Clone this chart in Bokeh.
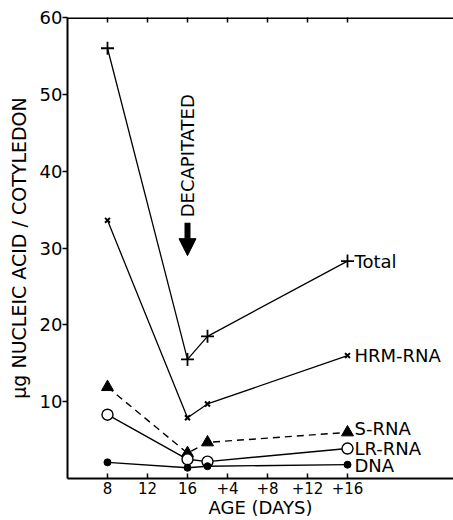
import math
from bokeh.plotting import figure
from bokeh.models import Range1d, FixedTicker, Label, Arrow, NormalHead, Span
from bokeh.embed import file_html
from bokeh.resources import INLINE

# ---- data ----
age = [8, 16, 18, 32]
total = [56.0, 15.5, 18.5, 28.3]
hrm_rna = [33.6, 7.9, 9.7, 16.0]
s_rna = [11.9, 3.3, 4.7, 6.0]
lr_rna = [8.3, 2.5, 2.2, 3.9]
dna = [2.1, 1.4, 1.6, 1.8]
x_ticks = [8, 12, 16, 20, 24, 28, 32]
x_tick_labels = ["8", "12", "16", "+4", "+8", "+12", "+16"]
y_ticks = [10, 20, 30, 40, 50, 60]
series_names = ["Total", "HRM-RNA", "S-RNA", "LR-RNA", "DNA"]

FONT = "DejaVu Sans"
Y_MAX = 60

p = figure(width=453, height=520, x_range=Range1d(4, 42.6), y_range=Range1d(0, Y_MAX),
           output_backend="svg", toolbar_location=None,
           min_border_left=67, min_border_right=0, min_border_top=17, min_border_bottom=42)
p.outline_line_color = None
p.xgrid.grid_line_color = None
p.ygrid.grid_line_color = None
p.background_fill_color = "white"
p.border_fill_color = "white"

# bottom axis
xa = p.xaxis[0]
xa.ticker = FixedTicker(ticks=x_ticks)
xa.major_label_overrides = {t: l for t, l in zip(x_ticks, x_tick_labels)}
xa.axis_line_width = 2
xa.major_tick_in = 5
xa.major_tick_out = 0
xa.major_tick_line_width = 1.5
xa.minor_tick_line_color = None
xa.major_label_standoff = 3
xa.major_label_text_font = FONT
xa.major_label_text_font_size = "15px"
xa.major_label_text_color = "black"
xa.axis_label = "AGE (DAYS)"
xa.axis_label_standoff = 0
xa.axis_label_text_font = FONT
xa.axis_label_text_font_size = "18px"
xa.axis_label_text_font_style = "normal"
xa.axis_label_text_color = "black"

# left axis
ya = p.yaxis[0]
ya.ticker = FixedTicker(ticks=y_ticks)
ya.axis_line_width = 2
ya.major_tick_in = 0
ya.major_tick_out = 5
ya.major_tick_line_width = 1.5
ya.minor_tick_line_color = None
ya.major_label_standoff = 0
ya.major_label_text_font = FONT
ya.major_label_text_font_size = "18px"
ya.major_label_text_color = "black"
ya.axis_label = "\u03bcg NUCLEIC ACID / COTYLEDON"
ya.axis_label_standoff = 7
ya.axis_label_text_font = FONT
ya.axis_label_text_font_size = "19px"
ya.axis_label_text_font_style = "normal"
ya.axis_label_text_color = "black"

# top frame line with inward ticks
p.add_layout(Span(location=Y_MAX, dimension="width", line_color="black", line_width=3))
p.scatter(x=x_ticks, y=[Y_MAX] * len(x_ticks), marker="dash", angle=math.pi / 2,
          size=10, line_color="black", line_width=1.5)

# series lines
p.line(age, total, line_color="black", line_width=1.3)
p.line(age, hrm_rna, line_color="black", line_width=1.3)
p.line(age, s_rna, line_color="black", line_width=1.4, line_dash="7 5")
p.line(age, lr_rna, line_color="black", line_width=1.4)
p.line(age, dna, line_color="black", line_width=1.4)

# markers
p.scatter(age, total, marker="cross", size=13, line_color="black", line_width=1.8)
p.scatter(age, hrm_rna, marker="x", size=7, line_color="black", line_width=2)
p.scatter(age, s_rna, marker="triangle", size=12, line_color="black", fill_color="black")
p.scatter(age, lr_rna, marker="circle", size=11, line_color="black", fill_color="white", line_width=1.4)
p.scatter(age, dna, marker="circle", size=7, line_color="black", fill_color="black")

# series labels at right end
last_vals = [total[-1], hrm_rna[-1], s_rna[-1], lr_rna[-1], dna[-1]]
label_dy = [0, 0, 4, 0, -1]
for name, yv, dy in zip(series_names, last_vals, label_dy):
    p.add_layout(Label(x=age[-1], y=yv, x_offset=7, y_offset=dy, text=name,
                       text_font=FONT, text_font_size="18px", text_color="black",
                       text_align="left", text_baseline="middle"))

# decapitation marker
p.add_layout(Arrow(x_start=16, y_start=33.3, x_end=16, y_end=29.0, line_width=6, line_color="black",
                   end=NormalHead(size=17, fill_color="black", line_color="black", line_width=1)))
p.add_layout(Label(x=16, y=34.0, text="DECAPITATED", angle=math.pi / 2,
                   text_font=FONT, text_font_size="18px", text_color="black",
                   text_align="left", text_baseline="middle"))

open("out.html", "w").write(file_html(p, INLINE))
